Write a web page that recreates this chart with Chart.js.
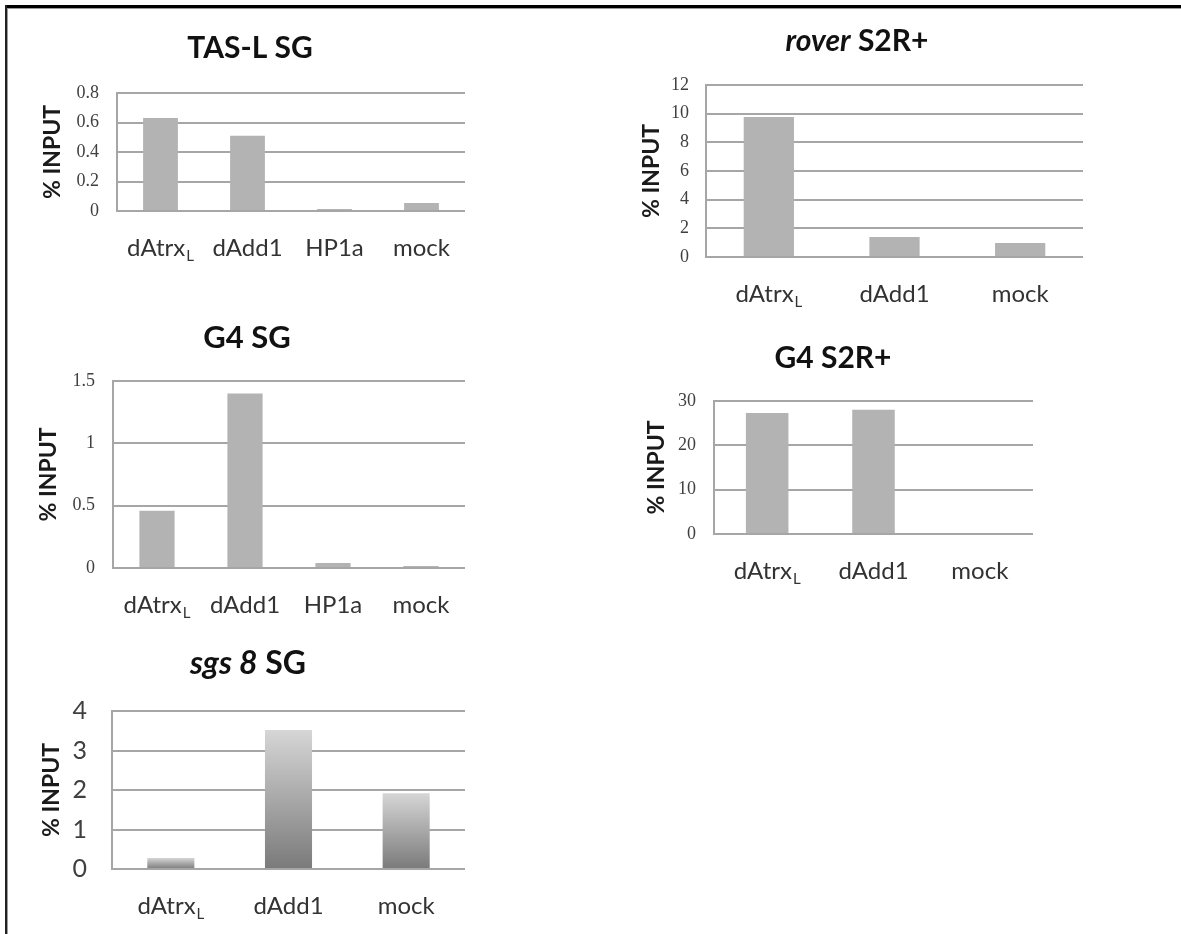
<!DOCTYPE html>
<html><head><meta charset="utf-8">
<script src="https://cdn.jsdelivr.net/npm/chart.js@4.4.1/dist/chart.umd.min.js"></script>
<style>
html,body{margin:0;padding:0;background:#fff;}
body{width:1181px;height:934px;position:relative;overflow:hidden;}
canvas{position:absolute;}
.ln{position:absolute;}
</style></head><body>
<div class="ln" style="left:5px;top:5px;width:1176px;height:3px;background:#000"></div>
<div class="ln" style="left:5px;top:8px;width:1176px;height:1px;background:#9a9a9a"></div>
<div class="ln" style="left:5px;top:5px;width:2px;height:929px;background:#222"></div>
<div class="ln" style="left:7px;top:8px;width:1px;height:926px;background:#9a9a9a"></div>
<script>
// ---------- data ----------
const catsFour = ['dAtrx_L', 'dAdd1', 'HP1a', 'mock'];
const catsThree = ['dAtrx_L', 'dAdd1', 'mock'];

const tasL_SG = [0.63, 0.51, 0.014, 0.054];
const roverS2R = [9.77, 1.40, 0.98];
const g4_SG = [0.46, 1.40, 0.04, 0.016];
const g4_S2R = [27.3, 28.0, 0];
const sgs8_SG = [0.28, 3.52, 1.92];

const ticksTas = [0, 0.2, 0.4, 0.6, 0.8];
const ticksRover = [0, 2, 4, 6, 8, 10, 12];
const ticksG4SG = [0, 0.5, 1, 1.5];
const ticksG4S2R = [0, 10, 20, 30];
const ticksSgs = [0, 1, 2, 3, 4];

const titleTas = [['TAS-L SG', false]];
const titleRover = [['rover', true], [' S2R+', false]];
const titleG4SG = [['G4 SG', false]];
const titleG4S2R = [['G4 S2R+', false]];
const titleSgs = [['sgs 8', true], [' SG', false]];

const yTitle = '% INPUT';

// ---------- layout ----------
const Y_TITLE_SIZE = 23, Y_TITLE_LH = 1.2;
const serifTicks = {family: 'Liberation Serif', size: 18};
const panels = [
  {labels: catsFour, data: tasL_SG, ticks: ticksTas, title: titleTas, tSize: 30,
   area: {L:117, R:465, T:93, B:211}, yTitleX: 53, box: {y:10, w:440, h:270},
   titleAt: [250, 58], tickFont: serifTicks, tickPad: 18, gradient: false},
  {labels: catsThree, data: roverS2R, ticks: ticksRover, title: titleRover, tSize: 30,
   area: {L:706, R:1083, T:85, B:257}, yTitleX: 652, box: {y:10, w:460, h:300},
   titleAt: [857, 51], tickFont: serifTicks, tickPad: 17, gradient: false},
  {labels: catsFour, data: g4_SG, ticks: ticksG4SG, title: titleG4SG, tSize: 31,
   area: {L:113, R:465, T:381, B:568}, yTitleX: 49, box: {y:300, w:444, h:330},
   titleAt: [247, 348], tickFont: serifTicks, tickPad: 18, gradient: false},
  {labels: catsThree, data: g4_S2R, ticks: ticksG4S2R, title: titleG4S2R, tSize: 30,
   area: {L:714, R:1033, T:401, B:534}, yTitleX: 657, box: {y:320, w:410, h:280},
   titleAt: [833, 368], tickFont: serifTicks, tickPad: 18, gradient: false},
  {labels: catsThree, data: sgs8_SG, ticks: ticksSgs, title: titleSgs, tSize: 32,
   area: {L:112, R:465, T:711, B:869}, yTitleX: 52, box: {y:635, w:441, h:295},
   titleAt: [248, 674], tickFont: {family: 'Lato', size: 25}, tickPad: 25, gradient: true},
];

const textPlugin = {
  id: 'panelText',
  afterDraw(chart, args, opts) {
    const ctx = chart.ctx, xs = chart.scales.x, area = chart.chartArea;
    ctx.save();
    ctx.fillStyle = '#333';
    ctx.textBaseline = 'alphabetic';
    ctx.textAlign = 'left';
    const mainFont = '24px Lato', subFont = '15px Lato';
    chart.data.labels.forEach((lab, i) => {
      const [main, sub] = lab.split('_');
      const cx = xs.getPixelForValue(i);
      ctx.font = mainFont;
      const w1 = ctx.measureText(main).width;
      let w2 = 0;
      if (sub) { ctx.font = subFont; w2 = ctx.measureText(sub).width + 1; }
      const x0 = cx - (w1 + w2) / 2, y = area.bottom + 45;
      ctx.font = mainFont; ctx.fillText(main, x0, y);
      if (sub) { ctx.font = subFont; ctx.fillText(sub, x0 + w1 + 1, y + 5); }
    });
    // title
    ctx.fillStyle = '#111';
    const segs = opts.title;
    const fonts = segs.map(s => (s[1] ? 'italic ' : '') + 'bold ' + opts.size + 'px Lato');
    let total = 0;
    const widths = segs.map((s, k) => { ctx.font = fonts[k]; const w = ctx.measureText(s[0]).width; total += w; return w; });
    let x = opts.x - total / 2;
    segs.forEach((s, k) => { ctx.font = fonts[k]; ctx.fillText(s[0], x, opts.y); x += widths[k]; });
    ctx.restore();
  }
};

panels.forEach(p => {
  const lh = Y_TITLE_SIZE * Y_TITLE_LH;
  const bx = Math.round(p.yTitleX - lh / 2);
  const yw = p.area.L - bx;
  const pr = bx + p.box.w - p.area.R;
  const pt = p.area.T - p.box.y;
  const xh = p.box.y + p.box.h - p.area.B;
  const cv = document.createElement('canvas');
  cv.width = p.box.w; cv.height = p.box.h;
  cv.style.left = bx + 'px'; cv.style.top = p.box.y + 'px';
  cv.style.width = p.box.w + 'px'; cv.style.height = p.box.h + 'px';
  document.body.appendChild(cv);
  const yMax = p.ticks[p.ticks.length - 1];
  new Chart(cv, {
    type: 'bar',
    data: {
      labels: p.labels,
      datasets: [{
        data: p.data,
        borderWidth: 0,
        categoryPercentage: 1,
        barPercentage: 0.4,
        backgroundColor: p.gradient ? (c) => {
          const ch = c.chart, ys = ch.scales.y;
          if (!ch.chartArea || !ys || c.parsed === undefined) return '#a8a8a8';
          const v = c.raw;
          const top = ys.getPixelForValue(v), bot = ys.getPixelForValue(0);
          if (!isFinite(top) || bot - top < 1) return '#a8a8a8';
          const g = ch.ctx.createLinearGradient(0, top, 0, bot);
          g.addColorStop(0, '#d6d6d6');
          g.addColorStop(1, '#7a7a7a');
          return g;
        } : '#b3b3b3'
      }]
    },
    options: {
      responsive: false,
      devicePixelRatio: 1,
      animation: false,
      layout: {padding: {left: 0, right: pr, top: pt, bottom: 0}},
      plugins: {
        legend: {display: false},
        tooltip: {enabled: false},
        panelText: {title: p.title, size: p.tSize, x: p.titleAt[0] - bx, y: p.titleAt[1] - p.box.y}
      },
      scales: {
        x: {
          offset: true,
          grid: {display: false, drawTicks: false},
          border: {display: false},
          ticks: {display: false},
          afterFit: s => { s.height = xh; }
        },
        y: {
          min: 0, max: yMax,
          afterBuildTicks: s => { s.ticks = p.ticks.map(v => ({value: v})); },
          afterFit: s => { s.width = yw; },
          grid: {color: '#a6a6a6', lineWidth: 2, drawTicks: false},
          border: {display: true, color: '#a6a6a6', width: 2},
          ticks: {padding: p.tickPad, color: '#404040', font: p.tickFont, callback: v => String(v)},
          title: {display: true, text: yTitle, color: '#1a1a1a', padding: 0,
                  font: {family: 'Lato', weight: 'bold', size: Y_TITLE_SIZE, lineHeight: Y_TITLE_LH}}
        }
      }
    },
    plugins: [textPlugin]
  });
});
</script>
</body></html>
